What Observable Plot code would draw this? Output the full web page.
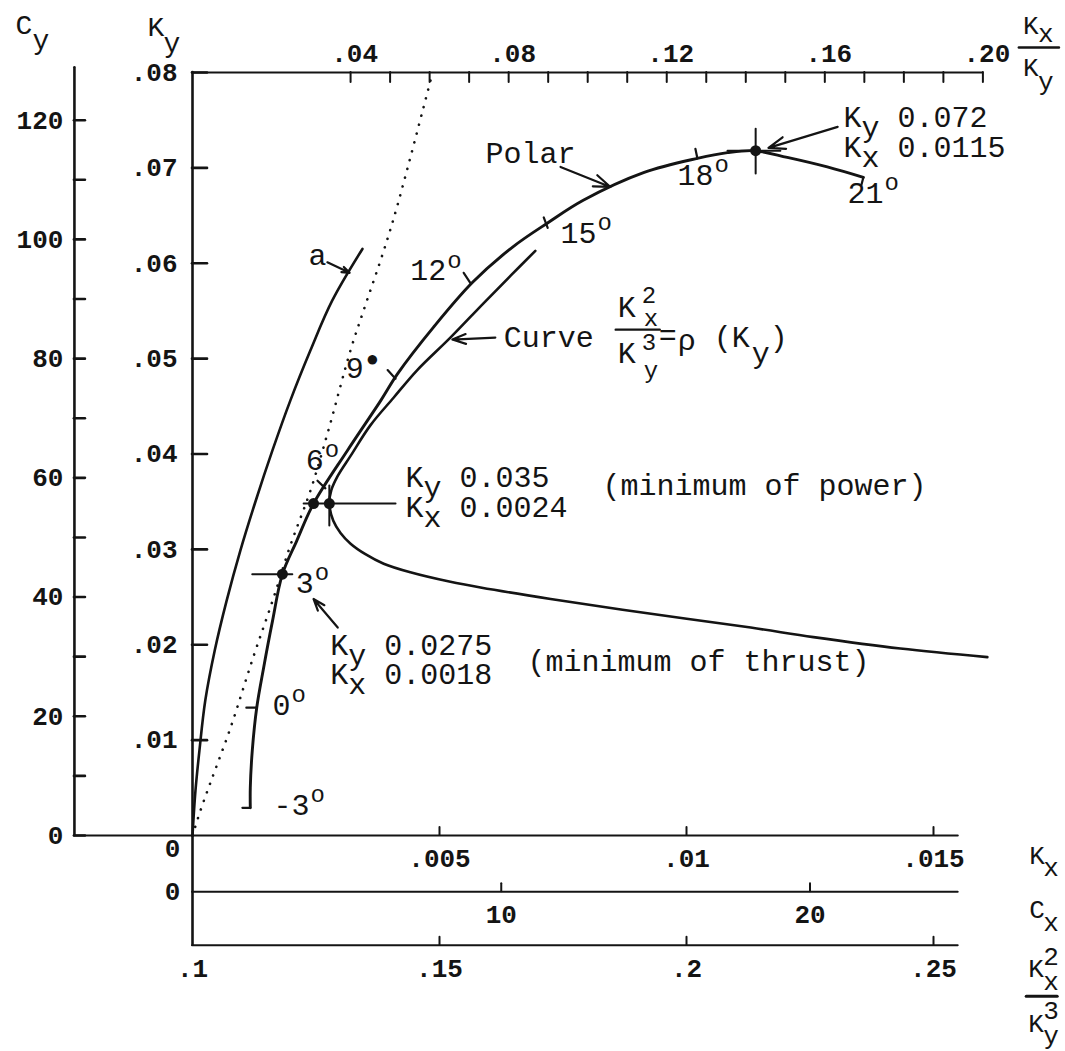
<!DOCTYPE html>
<html><head><meta charset="utf-8">
<script src="https://cdn.jsdelivr.net/npm/d3@7"></script>
<script src="https://cdn.jsdelivr.net/npm/@observablehq/plot@0.6"></script>
<style>body{margin:0;background:#fff} svg{display:block}</style>
</head><body><div id="chart"></div>
<script>
// ---------------- data (Kx, Ky) ----------------
const polarKx = [0.00117,0.00117,0.00121,0.00130,0.00144,0.00162,0.00182,0.00211,0.00245,0.00314,0.00381,0.00415,0.00488,0.00567,0.00648,0.00721,0.00791,0.00913,0.01022,0.01083,0.01138,0.01204,0.01285,0.01358];
const polarKy = [0.0029,0.0050,0.0089,0.0134,0.0176,0.0225,0.0274,0.0309,0.0348,0.0404,0.0456,0.0484,0.0533,0.0580,0.0617,0.0643,0.0666,0.0695,0.0710,0.0716,0.0718,0.0711,0.0701,0.0690];

const rhoKx = [0.00694,0.00644,0.00589,0.00522,0.00455,0.00407,0.00360,0.00320,0.00294,0.00281,0.00277,0.00285,0.00300,0.00320,0.00350,0.00387,0.00441,0.00522,0.00583,0.00725,0.00921,0.01130,0.01257,0.01433,0.01609];
const rhoKy = [0.0613,0.0587,0.0558,0.0522,0.0488,0.0459,0.0430,0.0398,0.0377,0.0362,0.0348,0.0330,0.0317,0.0306,0.0295,0.0285,0.0276,0.0266,0.0260,0.0248,0.0233,0.0218,0.0208,0.0196,0.0187];

const aKx = [0,0.00006,0.00014,0.00026,0.00045,0.00069,0.00097,0.00128,0.00162,0.00198,0.00239,0.00283,0.00344];
const aKy = [0,0.0047,0.0089,0.0142,0.0194,0.0246,0.0299,0.0351,0.0404,0.0456,0.0509,0.0561,0.0615];

const dotKx = [0,0.00016,0.00036,0.00077,0.00123,0.00162,0.00198,0.00239,0.00273,0.00320,0.00346,0.00387,0.00415,0.00486];
const dotKy = [0,0.0026,0.0055,0.0113,0.0187,0.0246,0.0304,0.0362,0.0421,0.0509,0.0550,0.0613,0.0661,0.0800];

// marked points: 3° (min thrust), min power on polar, nose of rho curve, max Ky
const markKx = [0.00182,0.00245,0.00277,0.0114];
const markKy = [0.0274,0.0348,0.0348,0.0718];

// angle labels on polar
const angleText = ["-3","0","3","6","9","12","15","18","21"];
const angleKx = [0.00164,0.00162,0.00209,0.00229,0.00310,0.00441,0.00745,0.00982,0.01326];
const angleKy = [0.00315,0.0136,0.0264,0.0393,0.0490,0.0592,0.0631,0.0692,0.0673];

// ---------------- axes ticks and labels ----------------
const kyTicks = [0.01,0.02,0.03,0.04,0.05,0.06,0.07,0.08];
const kyLabels = [".01",".02",".03",".04",".05",".06",".07",".08"];
const cyTicks = [0,10,20,30,40,50,60,70,80,90,100,110,120];
const cyLabels = [0,20,40,60,80,100,120];
const topTicks = [0.04,0.05,0.06,0.07,0.08,0.09,0.10,0.11,0.12,0.13,0.14,0.15,0.16,0.17,0.18,0.19,0.20];
const topLabelVals = [0.04,0.08,0.12,0.16,0.20];
const topLabels = [".04",".08",".12",".16",".20"];
const kxTicks = [0.005,0.01,0.015];
const kxLabels = [".005",".01",".015"];
const cxTicks = [10,20];
const cxLabels = ["10","20"];
const k2Ticks = [0.15,0.2,0.25];
const k2LabelVals = [0.1,0.15,0.2,0.25];
const k2Labels = [".1",".15",".2",".25"];

// ---------------- layout / style ----------------
const FONT = "'Liberation Mono','Courier New',monospace";
const INK = "#141414";
const pxX = 0.01/494, pxY = 0.08/763;
const cyAxisX = -0.00239, cyTop = 0.0805;
const cxAxisY = -0.0059, k2AxisY = -0.0115;
const axisEndX = 0.0155, topEndX = 0.016;
const zip = (xs, ys) => xs.map((x, i) => ({x, y: ys[i]}));

function typed(x, y, parts, size = 30) {
  return parts.map(p => Plot.text([{x, y}], {
    x: "x", y: "y", text: () => p.t, dx: p.dx ?? 0, dy: p.dy ?? 0,
    fontSize: p.s ?? size, fontFamily: FONT, fontWeight: p.w ?? "normal",
    textAnchor: p.a ?? "start", lineAnchor: "middle", fill: INK
  }));
}
function kLabel(x, y, rows, gap = 30) {
  const parts = [];
  rows.forEach(([sub, val], i) => {
    parts.push({t: "K", dy: i*gap}, {t: sub, dx: 18, dy: i*gap + 10}, {t: val, dx: 54, dy: i*gap});
  });
  return typed(x, y, parts);
}
const seg = (x1, y1, x2, y2) => ({x1, y1, x2, y2});
const line = {stroke: INK, strokeWidth: 2.6, strokeLinecap: "round"};
const ticks = [
  seg(0.00101,0.0029,0.00117,0.0029), seg(0.00109,0.0134,0.00130,0.0134),
  seg(0.00253,0.0372,0.00269,0.0364), seg(0.00395,0.0488,0.00411,0.0479),
  seg(0.00549,0.0590,0.00563,0.0579), seg(0.00711,0.0648,0.00719,0.0637),
  seg(0.01018,0.0720,0.01022,0.0710), seg(0.01358,0.0690,0.01354,0.0682)
];
const guides = [
  seg(0.00121,0.0274,0.00202,0.0274),
  seg(0.00225,0.0348,0.00411,0.0348), seg(0.00277,0.0325,0.00277,0.0367),
  seg(0.0114,0.0694,0.0114,0.0741), seg(0.01083,0.0718,0.0119,0.0718)
];
const arrows = [
  seg(0.00273,0.0601,0.00318,0.0590), seg(0.00294,0.0218,0.00245,0.0248),
  seg(0.00613,0.0522,0.00526,0.0520), seg(0.00745,0.0701,0.00846,0.0680),
  seg(0.01306,0.0743,0.01166,0.0721)
];
const axisTxt = {fontFamily: FONT, fontSize: 26, fill: INK, fontWeight: "bold"};
const linkXY = {x1: "x1", y1: "y1", x2: "x2", y2: "y2"};

const angleMarks = angleText.flatMap((t, i) => typed(angleKx[i], angleKy[i], [
  {t},
  t === "9" ? {t: "●", dx: 20, dy: -9, s: 22} : {t: "o", dx: t.length*18 + 1, dy: -11, s: 24}
]));

const marks = [
  // axis lines
  Plot.ruleX([0], {y1: k2AxisY, y2: 0.08, ...line}),
  Plot.ruleX([cyAxisX], {y1: 0, y2: cyTop, ...line}),
  Plot.ruleY([0.08], {x1: 0, x2: topEndX, ...line, strokeWidth: 2.2}),
  Plot.ruleY([0], {x1: cyAxisX, x2: axisEndX, ...line, strokeWidth: 2.2}),
  Plot.ruleY([cxAxisY], {x1: 0, x2: axisEndX, ...line, strokeWidth: 2}),
  Plot.ruleY([k2AxisY], {x1: 0, x2: axisEndX, ...line, strokeWidth: 2}),
  // ticks
  Plot.ruleY(kyTicks, {y: d => d, x1: 0, x2: 15*pxX, ...line}),
  Plot.ruleY(cyTicks, {y: d => d/1600, x1: cyAxisX, x2: cyAxisX + 11*pxX, ...line}),
  Plot.ruleX(topTicks, {x: d => d*0.08, y1: 0.08, y2: 0.08 - 10*pxY, ...line, strokeWidth: 2}),
  Plot.ruleX(kxTicks, {x: d => d, y1: 0, y2: 8*pxY, ...line, strokeWidth: 2}),
  Plot.ruleX(cxTicks, {x: d => d/1600, y1: cxAxisY, y2: cxAxisY + 8*pxY, ...line, strokeWidth: 2}),
  Plot.ruleX(k2Ticks, {x: d => (d - 0.1)/10, y1: k2AxisY, y2: k2AxisY + 8*pxY, ...line, strokeWidth: 2}),
  // tick labels
  Plot.text(kyTicks, {x: 0, y: d => d, text: (d, i) => kyLabels[i], dx: -15, textAnchor: "end", ...axisTxt}),
  Plot.text(cyLabels, {x: cyAxisX, y: d => d/1600, text: d => String(d), dx: -11, textAnchor: "end", ...axisTxt}),
  Plot.text(topLabelVals, {x: d => d*0.08, y: 0.08, text: (d, i) => topLabels[i], dx: 4, dy: -19, ...axisTxt}),
  Plot.text(kxTicks, {x: d => d, y: 0, text: (d, i) => kxLabels[i], dy: 23, ...axisTxt}),
  Plot.text([0], {x: 0, y: 0, text: () => "0", dx: -20, dy: 13, ...axisTxt}),
  Plot.text(cxTicks, {x: d => d/1600, y: cxAxisY, text: (d, i) => cxLabels[i], dy: 23, ...axisTxt}),
  Plot.text([0], {x: 0, y: cxAxisY, text: () => "0", dx: -20, dy: 0, ...axisTxt}),
  Plot.text(k2LabelVals, {x: d => (d - 0.1)/10, y: k2AxisY, text: (d, i) => k2Labels[i], dy: 23, ...axisTxt}),
  // axis titles
  ...typed(cyAxisX, 0.08, [{t: "C", dx: -59, dy: -47}, {t: "y", dx: -42, dy: -32}], 28),
  ...typed(0, 0.08, [{t: "K", dx: -45, dy: -45}, {t: "y", dx: -29, dy: -29}], 28),
  ...typed(topEndX, 0.08, [{t: "K", dx: 40, dy: -47}, {t: "x", dx: 55, dy: -39},
                           {t: "K", dx: 40, dy: -5}, {t: "y", dx: 55, dy: 9}], 26),
  Plot.link([seg(topEndX + 36*pxX, 0.08 + 25*pxY, topEndX + 76*pxX, 0.08 + 25*pxY)], {...linkXY, ...line}),
  ...typed(axisEndX, 0, [{t: "K", dx: 71, dy: 20}, {t: "x", dx: 85, dy: 32}], 26),
  ...typed(axisEndX, cxAxisY, [{t: "C", dx: 71, dy: 18}, {t: "x", dx: 85, dy: 31}], 26),
  ...typed(axisEndX, k2AxisY, [{t: "K", dx: 70, dy: 23}, {t: "2", dx: 85, dy: 11}, {t: "x", dx: 85, dy: 36},
                               {t: "K", dx: 70, dy: 78}, {t: "3", dx: 85, dy: 65}, {t: "y", dx: 85, dy: 90}], 26),
  Plot.link([seg(axisEndX + 68*pxX, k2AxisY - 51*pxY, axisEndX + 99*pxX, k2AxisY - 51*pxY)], {...linkXY, ...line, strokeWidth: 3}),
  // curves
  Plot.line(zip(dotKx, dotKy), {x: "x", y: "y", stroke: INK, strokeWidth: 2.6, strokeDasharray: "0.1 9", strokeLinecap: "round", curve: "catmull-rom"}),
  Plot.line(zip(aKx, aKy), {x: "x", y: "y", ...line, curve: "catmull-rom"}),
  Plot.line(zip(rhoKx, rhoKy), {x: "x", y: "y", ...line, curve: "catmull-rom"}),
  Plot.line(zip(polarKx, polarKy), {x: "x", y: "y", ...line, strokeWidth: 2.9, curve: "catmull-rom"}),
  Plot.link(ticks, {...linkXY, ...line, strokeWidth: 2.2}),
  Plot.link(guides, {...linkXY, ...line, strokeWidth: 2}),
  Plot.arrow(arrows, {...linkXY, stroke: INK, strokeWidth: 2.2, headLength: 12, headAngle: 40}),
  Plot.dot(zip(markKx, markKy), {x: "x", y: "y", r: 5.5, fill: INK}),
  // angle labels
  ...angleMarks,
  // annotations
  ...typed(0.00253, 0.0608, [{t: "a", a: "middle"}]),
  ...typed(0.00593, 0.0715, [{t: "Polar"}]),
  ...kLabel(0.01318, 0.0753, [["y", "0.072"], ["x", "0.0115"]]),
  ...kLabel(0.00431, 0.0375, [["y", "0.035"], ["x", "0.0024"]]),
  ...typed(0.0083, 0.0367, [{t: "(minimum of power)"}]),
  ...kLabel(0.00279, 0.0199, [["y", "0.0275"], ["x", "0.0018"]], 29),
  ...typed(0.00678, 0.0183, [{t: "(minimum of thrust)"}]),
  ...typed(0.0063, 0.0522, [{t: "Curve"},
    {t: "K", dx: 114, dy: -30}, {t: "2", dx: 138, dy: -42, s: 24}, {t: "x", dx: 140, dy: -19, s: 24},
    {t: "K", dx: 114, dy: 16}, {t: "3", dx: 138, dy: 5, s: 24}, {t: "y", dx: 140, dy: 33, s: 24},
    {t: "=", dx: 155, dy: -2}, {t: "ρ", dx: 174, dy: 3}, {t: "(K", dx: 210}, {t: "y", dx: 248, dy: 16}, {t: ")", dx: 266}]),
  Plot.link([seg(0.0063 + 112*pxX, 0.0522 + 8*pxY, 0.0063 + 156*pxX, 0.0522 + 8*pxY)], {...linkXY, ...line, strokeWidth: 2.4})
];

const chart = Plot.plot({
  width: 1065, height: 1051, margin: 0,
  style: {background: "#fff", fontFamily: FONT},
  x: {domain: [0, 0.01], range: [192, 686], axis: null},
  y: {domain: [0, 0.08], range: [835, 72], axis: null},
  marks
});
document.getElementById("chart").append(chart);
</script>
</body></html>
